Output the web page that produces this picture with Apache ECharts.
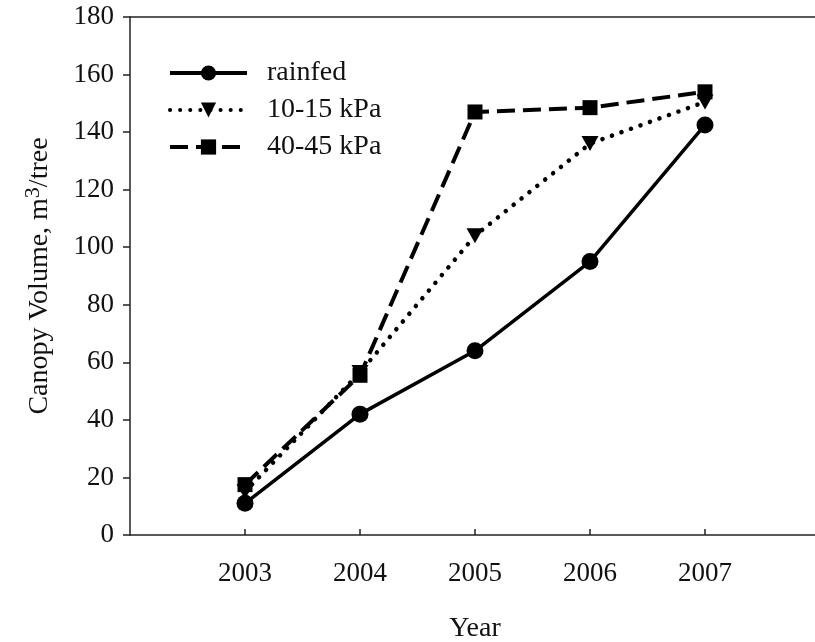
<!DOCTYPE html>
<html>
<head>
<meta charset="utf-8">
<script src="https://cdn.jsdelivr.net/npm/echarts@6/dist/echarts.min.js"></script>
<style>
  html, body { margin: 0; padding: 0; background: #fff; }
  #chart { width: 815px; height: 642px; }
</style>
</head>
<body>
<div id="chart"></div>
<script>
// data
var years = [2003, 2004, 2005, 2006, 2007]
var rainfed = [11, 42, 64, 95, 142.5]
var kpa1015 = [15, 56.5, 104, 136, 150.5]
var kpa4045 = [17.5, 55.5, 147, 148.5, 154]
var seriesNames = ['rainfed', '10-15 kPa', '40-45 kPa']

var FONT = '"Liberation Serif", "Times New Roman", serif'

function pairs (vals) {
  return years.map(function (y, i) { return [y, vals[i]] })
}

var myChart = echarts.init(document.getElementById('chart'))
myChart.setOption({
  animation: false,
  backgroundColor: '#fff',
  grid: {
    left: 130,
    top: 17,
    bottom: 107,
    width: 690,
    outerBoundsMode: 'none'
  },
  legend: {
    left: 163,
    top: 54,
    orient: 'vertical',
    itemWidth: 77,
    itemHeight: 19,
    itemGap: 9,
    lineStyle: { width: 4 },
    textStyle: {
      fontFamily: FONT,
      fontSize: 28,
      color: '#111',
      padding: [0, 0, 0, 15]
    },
    data: seriesNames
  },
  xAxis: [
    {
      type: 'value',
      min: 2002,
      max: 2008,
      interval: 1,
      name: 'Year',
      nameLocation: 'middle',
      nameGap: 80,
      nameTextStyle: { fontFamily: FONT, fontSize: 28, color: '#111' },
      axisLine: { onZero: false, lineStyle: { color: '#222', width: 1.5 } },
      axisTick: { inside: true, length: 6, lineStyle: { color: '#222', width: 1.5 } },
      axisLabel: {
        showMinLabel: false,
        showMaxLabel: false,
        margin: 25,
        fontFamily: FONT,
        fontSize: 27,
        color: '#111',
        formatter: function (v) { return String(v) }
      },
      splitLine: { show: false }
    },
    {
      type: 'value',
      position: 'top',
      min: 2002,
      max: 2008,
      axisLine: { show: true, onZero: false, lineStyle: { color: '#222', width: 1.5 } },
      axisTick: { show: false },
      axisLabel: { show: false },
      splitLine: { show: false }
    }
  ],
  yAxis: {
    type: 'value',
    min: 0,
    max: 180,
    interval: 20,
    name: '{a|Canopy Volume, m}{s|3}{a|/tree}',
    nameLocation: 'middle',
    nameGap: 72,
    nameTextStyle: {
      rich: {
        a: { fontFamily: FONT, fontSize: 28, color: '#111' },
        s: { fontFamily: FONT, fontSize: 22, color: '#111', padding: [0, 0, 14, 0] }
      }
    },
    axisLine: { show: true, lineStyle: { color: '#222', width: 1.5 } },
    axisTick: { show: true, length: 7, lineStyle: { color: '#222', width: 1.5 } },
    axisLabel: { margin: 16, fontFamily: FONT, fontSize: 27, color: '#111' },
    splitLine: { show: false }
  },
  series: [
    {
      name: seriesNames[0],
      type: 'line',
      data: pairs(rainfed),
      symbol: 'circle',
      symbolSize: 17,
      itemStyle: { color: '#000' },
      lineStyle: { color: '#000', width: 3.5, type: 'solid' },
      z: 3
    },
    {
      name: seriesNames[1],
      type: 'line',
      data: pairs(kpa1015),
      symbol: 'triangle',
      symbolRotate: 180,
      symbolSize: [17, 15],
      itemStyle: { color: '#000' },
      lineStyle: { color: '#000', width: 4.5, type: [0.1, 10], cap: 'round' },
      z: 4
    },
    {
      name: seriesNames[2],
      type: 'line',
      data: pairs(kpa4045),
      symbol: 'rect',
      symbolSize: 15,
      itemStyle: { color: '#000' },
      lineStyle: { color: '#000', width: 4, type: [18, 8] },
      z: 5
    }
  ]
})
</script>
</body>
</html>
